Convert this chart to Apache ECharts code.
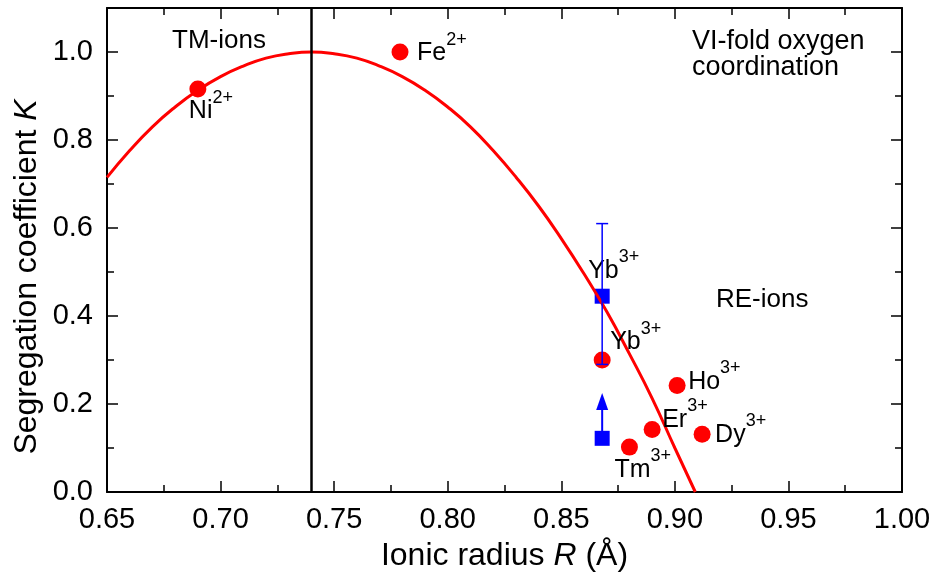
<!DOCTYPE html>
<html>
<head>
<meta charset="utf-8">
<script src="https://cdn.jsdelivr.net/npm/echarts@6/dist/echarts.min.js"></script>
<style>
  html, body { margin: 0; padding: 0; background: #fff; }
  #chart { width: 935px; height: 577px; }
</style>
</head>
<body>
<div id="chart"></div>
<script>
// fitted curve
const curveR = [0.65, 0.66, 0.67, 0.68, 0.69, 0.70, 0.71, 0.72, 0.73, 0.74, 0.75, 0.76, 0.77, 0.78, 0.79, 0.80, 0.81, 0.82, 0.83, 0.84, 0.85, 0.86, 0.87, 0.88, 0.89, 0.90, 0.909]
const curveK = [0.715, 0.776, 0.830, 0.875, 0.913, 0.944, 0.968, 0.986, 0.996, 1.000, 0.996, 0.986, 0.968, 0.944, 0.913, 0.875, 0.830, 0.776, 0.716, 0.650, 0.576, 0.496, 0.410, 0.314, 0.213, 0.100, 0.000]

// red points
const ionName = ['Ni', 'Fe', 'Yb', 'Tm', 'Er', 'Ho', 'Dy']
const ionCharge = ['2+', '2+', '3+', '3+', '3+', '3+', '3+']
const ionR = [0.690, 0.779, 0.868, 0.880, 0.890, 0.901, 0.912]
const ionK = [0.916, 1.000, 0.300, 0.102, 0.142, 0.242, 0.131]

// blue squares (Yb3+)
const squareName = ['Yb', '']
const squareR = [0.868, 0.868]
const squareK = [0.445, 0.122]
const errLow = [0.29]
const errHigh = [0.61]
const arrowTip = [0.225]

const xTicks = { min: 0.65, max: 1.0, interval: 0.05 }
const yTicks = { min: 0, max: 1.1, interval: 0.2, minor: 0.1 }
const markerR = 0.74

const font = "'Liberation Sans', Arial, sans-serif"

// label offsets from point centre [dx, dy]
const labelOffset = {
  Ni: [-9, 35], Fe: [17, 14], Yb: [8, -5], Tm: [-15, 35], Er: [10, 3], Ho: [11, 9], Dy: [13, 13]
}
const squareLabelOffset = [-14, -13]

const rich = {
  b: { fontSize: 25, lineHeight: 35, verticalAlign: 'bottom', color: '#000', fontFamily: font },
  s: { fontSize: 18, lineHeight: 18, verticalAlign: 'top', color: '#000', fontFamily: font }
}
const ionLabel = (name, charge, offset) => ({
  show: true, position: 'inside', align: 'left', verticalAlign: 'bottom',
  color: '#000', offset: offset,
  formatter: '{b|' + name + '}{s|' + charge + '}',
  rich: rich
})

const chart = echarts.init(document.getElementById('chart'))

const baseX = (pos, show) => ({
  type: 'value', position: pos, min: xTicks.min, max: xTicks.max, interval: xTicks.interval,
  axisLine: { show: true, onZero: false, lineStyle: { color: '#000', width: 2 } },
  axisTick: { show: true, inside: true, length: 11, lineStyle: { color: '#000', width: 1.5 } },
  minorTick: { show: true, splitNumber: 2, length: 7, lineStyle: { color: '#000', width: 1.5 } },
  axisLabel: { show: show, margin: 13, fontSize: 29, color: '#000', fontFamily: font, formatter: v => v.toFixed(2) },
  splitLine: { show: false }
})
const baseY = (pos, show) => ({
  type: 'value', position: pos, min: yTicks.min, max: yTicks.max, interval: yTicks.interval,
  axisLine: { show: true, onZero: false, lineStyle: { color: '#000', width: 2 } },
  axisTick: { show: true, inside: true, length: 11, lineStyle: { color: '#000', width: 1.5 } },
  axisLabel: { show: show, margin: 14, fontSize: 29, color: '#000', fontFamily: font, showMaxLabel: false, formatter: v => v.toFixed(1) },
  splitLine: { show: false }
})
// minor ticks only, so that none is drawn above 1.0
const minorY = (pos) => ({
  type: 'value', position: pos, min: yTicks.min, max: yTicks.max, interval: yTicks.minor,
  axisLine: { show: false },
  axisTick: { show: true, inside: true, length: 7, lineStyle: { color: '#000', width: 1.5 } },
  axisLabel: { show: false },
  splitLine: { show: false }
})

const nameRich = {
  n: { fontSize: 32, fontFamily: font, fill: '#000', color: '#000' },
  i: { fontSize: 32, fontFamily: font, fill: '#000', color: '#000', fontStyle: 'italic' }
}

const xMain = baseX('bottom', true)
xMain.name = '{n|Ionic radius }{i|R}{n| (Å)}'
xMain.nameLocation = 'middle'
xMain.nameGap = 48
xMain.nameTextStyle = { rich: nameRich }

chart.setOption({
  animation: false,
  grid: { left: 107, right: 33, top: 8, bottom: 85, containLabel: false },
  xAxis: [xMain, baseX('top', false)],
  yAxis: [baseY('left', true), baseY('right', false), minorY('left'), minorY('right')],
  graphic: [
    { type: 'text', left: 172, top: 28, z: 10, style: { text: 'TM-ions', fontSize: 26, fontFamily: font, fill: '#000' } },
    { type: 'text', left: 692, top: 28, z: 10, style: { text: 'VI-fold oxygen\ncoordination', fontSize: 27, lineHeight: 26, fontFamily: font, fill: '#000' } },
    { type: 'text', left: 716, top: 287, z: 10, style: { text: 'RE-ions', fontSize: 26, fontFamily: font, fill: '#000' } },
    {
      type: 'text', x: 27, y: 277, rotation: Math.PI / 2, z: 10,
      style: { text: '{n|Segregation coefficient }{i|K}', rich: nameRich, align: 'center', verticalAlign: 'middle' }
    }
  ],
  series: [
    {
      type: 'scatter', z: 2, symbol: 'rect', symbolSize: 15,
      itemStyle: { color: '#0000ff', opacity: 1 },
      data: squareR.map((r, i) => ({
        value: [r, squareK[i]],
        label: squareName[i] ? ionLabel(squareName[i], '3+', squareLabelOffset) : { show: false }
      }))
    },
    {
      type: 'line', z: 3, smooth: true, showSymbol: false, symbol: 'none',
      lineStyle: { color: '#ff0000', width: 3 },
      data: curveR.map((r, i) => [r, curveK[i]]),
      markLine: {
        silent: true, symbol: 'none', label: { show: false },
        lineStyle: { color: '#000', width: 2.5, type: 'solid' },
        data: [{ xAxis: markerR }]
      }
    },
    {
      type: 'scatter', z: 4, symbol: 'circle', symbolSize: 17,
      itemStyle: { color: '#ff0000', opacity: 1 },
      data: ionR.map((r, i) => ({
        value: [r, ionK[i]],
        label: ionLabel(ionName[i], ionCharge[i], labelOffset[ionName[i]])
      }))
    },
    {
      type: 'custom', z: 5,
      data: errLow.map((lo, i) => [squareR[0], lo, errHigh[i]]),
      renderItem: (params, api) => {
        const lo = api.coord([api.value(0), api.value(1)])
        const hi = api.coord([api.value(0), api.value(2)])
        const w = 6
        const st = { stroke: '#0000ff', lineWidth: 1.5, fill: null }
        return { type: 'group', children: [
          { type: 'line', shape: { x1: lo[0], y1: lo[1], x2: hi[0], y2: hi[1] }, style: st },
          { type: 'line', shape: { x1: lo[0] - w, y1: lo[1], x2: lo[0] + w, y2: lo[1] }, style: st },
          { type: 'line', shape: { x1: hi[0] - w, y1: hi[1], x2: hi[0] + w, y2: hi[1] }, style: st }
        ] }
      }
    },
    {
      type: 'custom', z: 5,
      data: arrowTip.map(t => [squareR[1], squareK[1], t]),
      renderItem: (params, api) => {
        const from = api.coord([api.value(0), api.value(1)])
        const tip = api.coord([api.value(0), api.value(2)])
        const h = 17, w = 6
        return { type: 'group', children: [
          { type: 'line', shape: { x1: from[0], y1: from[1], x2: tip[0], y2: tip[1] + h }, style: { stroke: '#0000ff', lineWidth: 2 } },
          { type: 'polygon', shape: { points: [[tip[0], tip[1]], [tip[0] - w, tip[1] + h], [tip[0] + w, tip[1] + h]] }, style: { fill: '#0000ff' } }
        ] }
      }
    }
  ]
})
</script>
</body>
</html>
